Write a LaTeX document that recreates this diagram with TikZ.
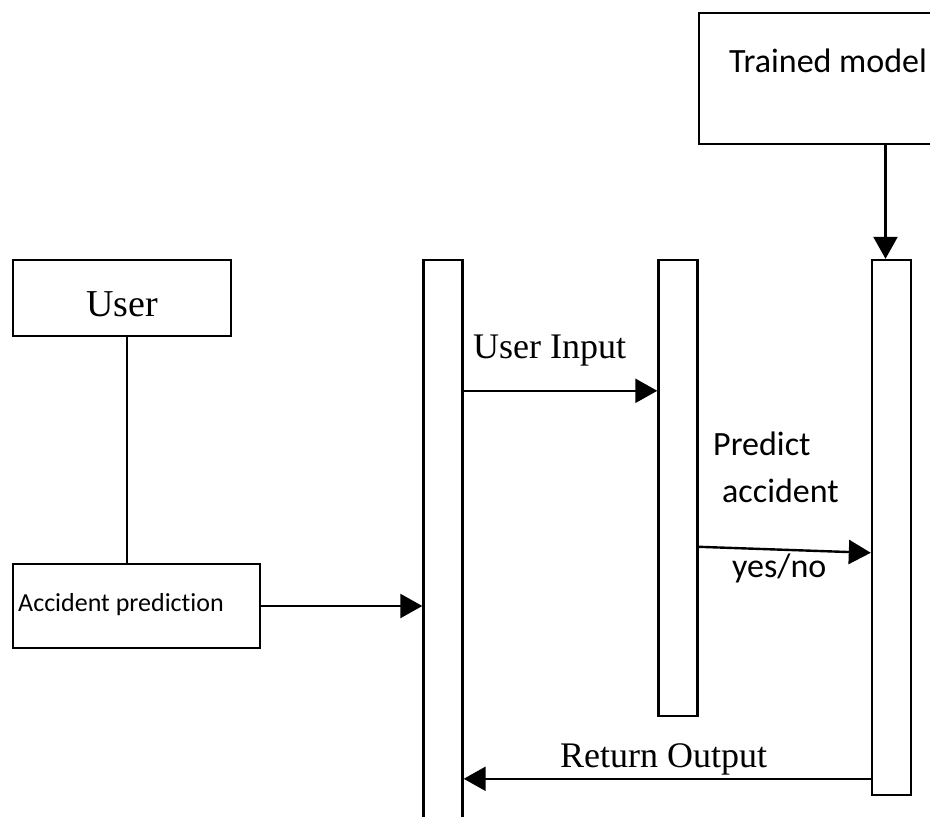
\documentclass[tikz,border=0pt]{standalone}
\usepackage{fontspec}
\setmainfont{Liberation Serif}
\newfontfamily\calfont[Ligatures=NoCommon]{Carlito}
\usetikzlibrary{arrows.meta}

\tikzset{
    box/.style={draw, line width=2.4pt, rectangle, inner sep=0pt},
    life/.style={draw, line width=2.4pt, rectangle, minimum width=39pt, inner sep=0pt},
    msg/.style={line width=2.4pt, -{Triangle[length=22pt,width=24pt]}},
    serif/.style={font=\fontsize{36}{40}\selectfont, inner sep=0pt, anchor=base west},
    cal/.style={font=\calfont\fontsize{34}{40}\selectfont, inner sep=0pt, anchor=base west},
}

\begin{document}
\begin{tikzpicture}[x=1pt,y=-1pt]
    \clip (0,0) rectangle (930,817);
    \fill[white] (0,0) rectangle (930,817);

    % boxes
    \node[box, minimum width=261pt, minimum height=131pt] (model) at (829.5,78.5) {};
    \node[cal] (modeltxt) at (729,72) {Trained model};
    \node[box, minimum width=218pt, minimum height=76pt] (user) at (122,298) {};
    \node[font=\fontsize{38}{40}\selectfont, inner sep=0pt, anchor=base] (usertxt) at (122,316) {User};
    \node[box, minimum width=247pt, minimum height=84pt] (pred) at (136.5,606) {};
    \node[cal, font=\calfont\fontsize{26}{30}\selectfont] (predtxt) at (18,611) {Accident prediction};

    % lifelines
    \node[life, minimum height=570pt] (act)  at (443,545) {};
    \node[life, minimum height=456pt] (app)  at (678,488) {};
    \node[life, minimum height=535pt] (mdl)  at (891.5,527.5) {};

    % messages
    \draw[line width=2.4pt] ([xshift=5pt]user.south) -- ([xshift=5pt]user.south |- pred.north);
    \draw[msg] (pred.east) -- (pred.east -| act.west);
    \draw[msg] ([yshift=-132pt]act.north east) -- ([yshift=-132pt]app.north west);
    \draw[msg] ([yshift=-288pt]app.north east) -- ([yshift=-294pt]mdl.north west);
    \draw[msg] ([yshift=-520pt]mdl.north west) -- ([yshift=-520pt]act.north east);
    \draw[msg] ([xshift=-6pt]mdl.north |- model.south) -- ([xshift=-6pt]mdl.north);

    % labels
    \node[serif] (uin)  at (473,358) {User Input};
    \node[cal]   (pa1)  at (713,455) {Predict};
    \node[cal]   (pa2)  at (722,502) {accident};
    \node[cal]   (yn)   at (732,577) {yes/no};
    \node[serif] (rout) at (560,767) {Return Output};
\end{tikzpicture}
\end{document}
